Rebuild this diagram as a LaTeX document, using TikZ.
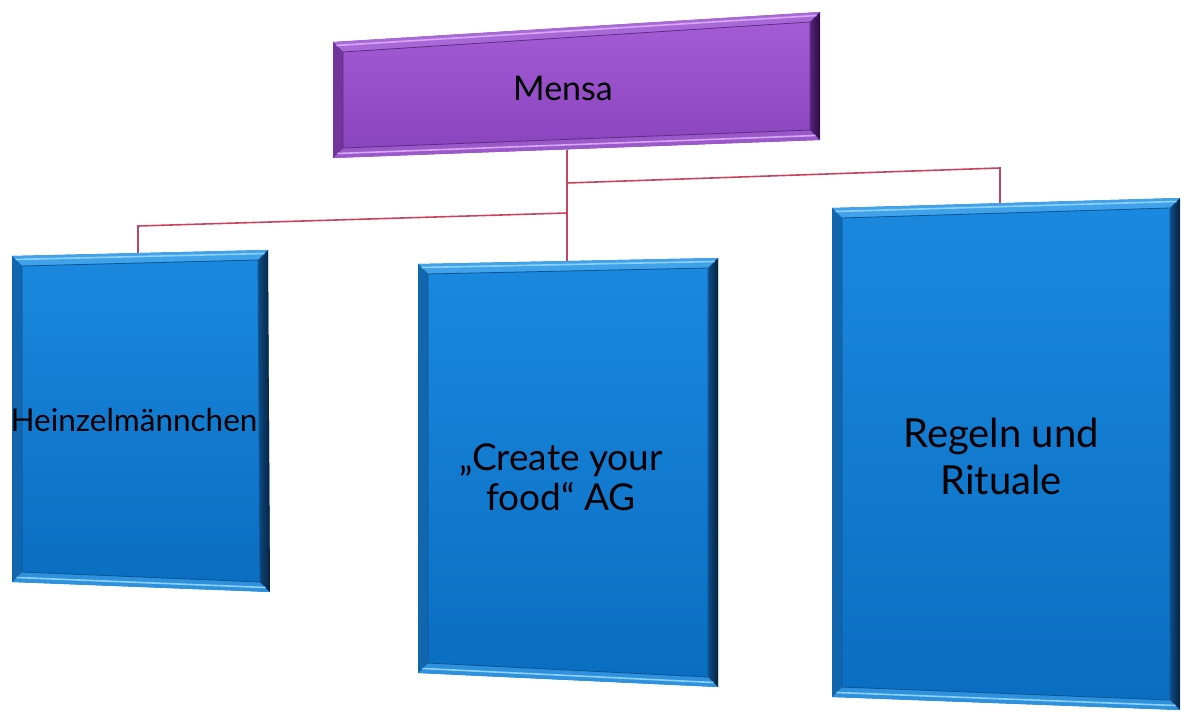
\documentclass[tikz,border=0pt]{standalone}
\usepackage{fontspec}
\setmainfont{Lato}
\usetikzlibrary{calc}
\definecolor{bframe}{HTML}{1478CC}
\definecolor{blight}{HTML}{3FA2EA}
\definecolor{bhigh}{HTML}{8ED0F8}
\definecolor{bdark}{HTML}{07213F}
\definecolor{btop}{HTML}{1A88DE}
\definecolor{bbot}{HTML}{0A6EC2}
\definecolor{pframe}{HTML}{8440B8}
\definecolor{plight}{HTML}{A968D8}
\definecolor{phigh}{HTML}{D6A8F4}
\definecolor{pdark}{HTML}{2A0A40}
\definecolor{ptop}{HTML}{A45CD6}
\definecolor{pbot}{HTML}{8A44BE}
\definecolor{link}{HTML}{C8445E}
\newcommand{\drawbev}[8]{%
  \coordinate (#1-a) at ($(#1-A)+(#2,#2)$);
  \coordinate (#1-b) at ($(#1-B)+(-#2,#2)$);
  \coordinate (#1-c) at ($(#1-C)+(-#2,-#2)$);
  \coordinate (#1-d) at ($(#1-D)+(#2,-#2)$);
  \fill[#3] (#1-A) -- (#1-B) -- (#1-C) -- (#1-D) -- cycle;
  \fill[#4] (#1-A) -- (#1-B) -- (#1-b) -- (#1-a) -- cycle;
  \fill[#4!60!#3] (#1-D) -- (#1-C) -- (#1-c) -- (#1-d) -- cycle;
  \fill[#3!85!black] (#1-A) -- (#1-D) -- (#1-d) -- (#1-a) -- cycle;
  \shade[left color=#3!50!#6, right color=#6] (#1-B) -- (#1-C) -- (#1-c) -- (#1-b) -- cycle;
  \shade[top color=#7, bottom color=#8] (#1-a) -- (#1-b) -- (#1-c) -- (#1-d) -- cycle;
  \draw[#5, line width=1.6pt] ($(#1-A)!0.35!(#1-a)$) -- ($(#1-B)!0.35!(#1-b)$);
  \draw[#5, line width=1.6pt] ($(#1-D)!0.45!(#1-d)$) -- ($(#1-C)!0.45!(#1-c)$);
  \draw[#3!70!black, line width=0.8pt] (#1-a) -- (#1-b) -- (#1-c) -- (#1-d) -- cycle;
}
\tikzset{
  linkline/.style={draw=link, line width=1.6pt},
  label/.style={text=black, align=center, inner sep=0pt}
}
\begin{document}
\begin{tikzpicture}[x=1pt,y=-1pt]
\useasboundingbox (0,0) rectangle (1181,722);
\fill[white] (0,0) rectangle (1181,722);

% connectors
\coordinate (mb) at (567,150);
\coordinate (j1) at (567,183);
\coordinate (j2) at (567,213);
\coordinate (mt) at (567,262);
\coordinate (rk) at (1000,168);
\coordinate (rt) at (1000,205);
\coordinate (lk) at (138,226);
\coordinate (lt) at (138,254);
\draw[linkline] (mb) -- (mt);
\draw[linkline] (j1) -- (rk) -- (rt);
\draw[linkline] (j2) -- (lk) -- (lt);

% Mensa box
\coordinate (m-A) at (333,42);
\coordinate (m-B) at (820,12);
\coordinate (m-C) at (820,140);
\coordinate (m-D) at (333,158);
\drawbev{m}{10}{pframe}{plight}{phigh}{pdark}{ptop}{pbot}

% left box
\coordinate (l-A) at (12,256);
\coordinate (l-B) at (268,250);
\coordinate (l-C) at (270,592);
\coordinate (l-D) at (12,582);
\drawbev{l}{10}{bframe}{blight}{bhigh}{bdark}{btop}{bbot}

% middle box
\coordinate (c-A) at (418,264);
\coordinate (c-B) at (718,258);
\coordinate (c-C) at (718,687);
\coordinate (c-D) at (418,673);
\drawbev{c}{10}{bframe}{blight}{bhigh}{bdark}{btop}{bbot}

% right box
\coordinate (r-A) at (832,208);
\coordinate (r-B) at (1180,198);
\coordinate (r-C) at (1180,710);
\coordinate (r-D) at (832,697);
\drawbev{r}{10}{bframe}{blight}{bhigh}{bdark}{btop}{bbot}

% labels
\node[label, font=\fontsize{34}{40}\selectfont] (mensa) at (563,88) {Mensa};
\node[label, font=\fontsize{31.5}{38}\selectfont] (heinz) at (134,420) {Heinzelmännchen};
\node[label, font=\fontsize{37}{40}\selectfont] (create) at (561,477) {„Create your\\food“ AG};
\node[label, font=\fontsize{40}{47}\selectfont] (regeln) at (1001,456) {Regeln und\\Rituale};
\end{tikzpicture}
\end{document}
